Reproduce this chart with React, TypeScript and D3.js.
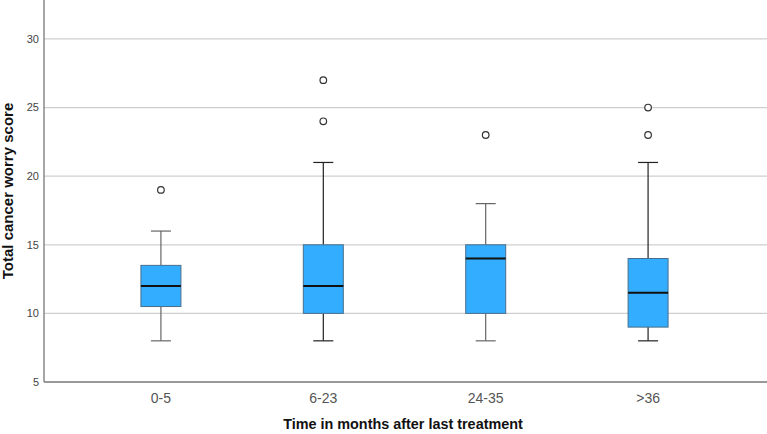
import React from "react";
import * as d3 from "d3";

const categories = ["0-5", "6-23", "24-35", ">36"];
const whiskerLow = [8, 8, 8, 8];
const q1 = [10.5, 10, 10, 9];
const median = [12, 12, 14, 11.5];
const q3 = [13.5, 15, 15, 14];
const whiskerHigh = [16, 21, 18, 21];
const outliers = [[19], [24, 27], [23], [23, 25]];
const yTicks = [5, 10, 15, 20, 25, 30];

const W = 767, H = 434;
const left = 44, right = 765, top = 0, bottom = 382;

export default function App() {
  const x = d3.scalePoint<string>().domain(categories).range([left, right]).padding(0.72);
  const y = d3.scaleLinear().domain([5, 32.84]).range([bottom, top]);
  const boxW = 40, capW = 20;
  return (
    <svg width={W} height={H} style={{ position: "absolute", left: 0, top: 0, background: "#fff" }}
      fontFamily="'Liberation Sans', Arial, sans-serif">
      {yTicks.filter(t => t > 5).map(t => (
        <line key={t} x1={left} x2={W} y1={y(t)} y2={y(t)} stroke="#cfcfcf" strokeWidth={1.3} />
      ))}
      {yTicks.map(t => (
        <text key={"l" + t} x={39} y={y(t)} dy="0.35em" textAnchor="end" fontSize={11} fill="#444">{t}</text>
      ))}
      {categories.map((c, i) => {
        const cx = x(c)!;
        const stroke = i === 0 || i === 2 ? "#666" : "#222";
        return (
          <g key={c}>
            <line x1={cx} x2={cx} y1={y(whiskerLow[i])} y2={y(q1[i])} stroke={stroke} strokeWidth={1.2} />
            <line x1={cx} x2={cx} y1={y(q3[i])} y2={y(whiskerHigh[i])} stroke={stroke} strokeWidth={1.2} />
            <line x1={cx - capW / 2} x2={cx + capW / 2} y1={y(whiskerLow[i])} y2={y(whiskerLow[i])} stroke={stroke} strokeWidth={1.2} />
            <line x1={cx - capW / 2} x2={cx + capW / 2} y1={y(whiskerHigh[i])} y2={y(whiskerHigh[i])} stroke={stroke} strokeWidth={1.2} />
            <rect x={cx - boxW / 2} y={y(q3[i])} width={boxW} height={y(q1[i]) - y(q3[i])}
              fill="#33adff" stroke="#4a6f8a" strokeWidth={1} />
            <line x1={cx - boxW / 2} x2={cx + boxW / 2} y1={y(median[i])} y2={y(median[i])} stroke="#111" strokeWidth={2} />
            {outliers[i].map(o => (
              <circle key={o} cx={cx} cy={y(o)} r={3.3} fill="#fff" stroke="#333" strokeWidth={1.2} />
            ))}
            <text x={cx} y={403} textAnchor="middle" fontSize={14} fill="#555">{c}</text>
          </g>
        );
      })}
      <line x1={left} x2={left} y1={top} y2={bottom} stroke="#777" strokeWidth={1.3} />
      <line x1={left} x2={W} y1={bottom} y2={bottom} stroke="#777" strokeWidth={1.3} />
      <text transform={`translate(13,${191}) rotate(-90)`} textAnchor="middle"
        fontSize={15} fontWeight="bold" fill="#111">Total cancer worry score</text>
      <text x={403} y={429} textAnchor="middle" fontSize={14.4} fontWeight="bold" fill="#111">
        Time in months after last treatment
      </text>
    </svg>
  );
}
